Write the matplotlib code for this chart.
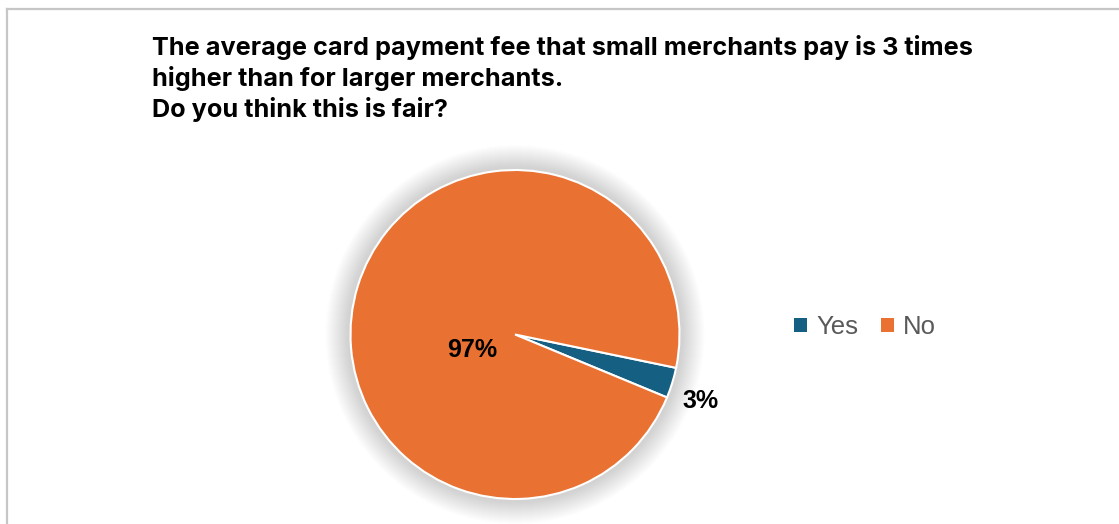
import numpy as np
import matplotlib.pyplot as plt
from matplotlib.patches import Circle
from matplotlib.lines import Line2D

labels = ['Yes', 'No']
shares = [3, 97]
colors = ['#156082', '#E97132']
title_lines = [
    'The average card payment fee that small merchants pay is 3 times',
    'higher than for larger merchants.',
    'Do you think this is fair?',
]

W, H = 1119, 524
fig = plt.figure(figsize=(W / 100, H / 100), dpi=100)
ax = fig.add_axes([0, 0, 1, 1])

cx, cy, r = 515, H - 334.5, 164.5

# soft grey glow round the pie
for k in range(1, 26):
    ax.add_patch(Circle((cx, cy), r + k, color='#808080', alpha=0.011, lw=0, zorder=1))

wedges, _ = ax.pie(shares, colors=colors, startangle=-11.7, counterclock=False,
                   center=(cx, cy), radius=r, frame=True,
                   wedgeprops=dict(edgecolor='white', linewidth=1.5, zorder=2))
ax.set_xlim(0, W)
ax.set_ylim(0, H)
ax.set_aspect('equal')
ax.axis('off')

# data labels
yes_ang = np.deg2rad((wedges[0].theta1 + wedges[0].theta2) / 2 - 2.5)
ax.text(cx + 1.2 * r * np.cos(yes_ang), cy + 1.2 * r * np.sin(yes_ang),
        f'{shares[0]}%', ha='center', va='center', fontsize=18,
        fontweight='bold', family='Liberation Sans', color='black', zorder=3)
no_ang = np.deg2rad(-160)
ax.text(cx + 0.28 * r * np.cos(no_ang), cy + 0.28 * r * np.sin(no_ang),
        f'{shares[1]}%', ha='center', va='center', fontsize=18,
        fontweight='bold', family='Liberation Sans', color='black', zorder=3)

# title
for i, line in enumerate(title_lines):
    fig.text(152 / W, 1 - (55 + 31 * i) / H, line, ha='left', va='baseline',
             fontsize=18.2, fontweight='bold', family='Inter', color='black')

leg = fig.legend(wedges, labels, loc='center', bbox_to_anchor=(865 / W, 1 - 327 / H),
                 ncol=2, frameon=False, handlelength=0.5, handleheight=0.5,
                 handletextpad=0.35, columnspacing=0.9,
                 prop=dict(family='Liberation Sans', size=18.5))
for t in leg.get_texts():
    t.set_color('#595959')
for h in leg.legend_handles:
    h.set_edgecolor('none')

# chart area border (left and top)
fig.add_artist(Line2D([7 / W, 7 / W], [0, 1 - 9 / H], color='#c6c6c6', lw=1.6))
fig.add_artist(Line2D([7 / W, 1], [1 - 9 / H, 1 - 9 / H], color='#c6c6c6', lw=1.6))

fig.savefig('out.png', dpi=100)
